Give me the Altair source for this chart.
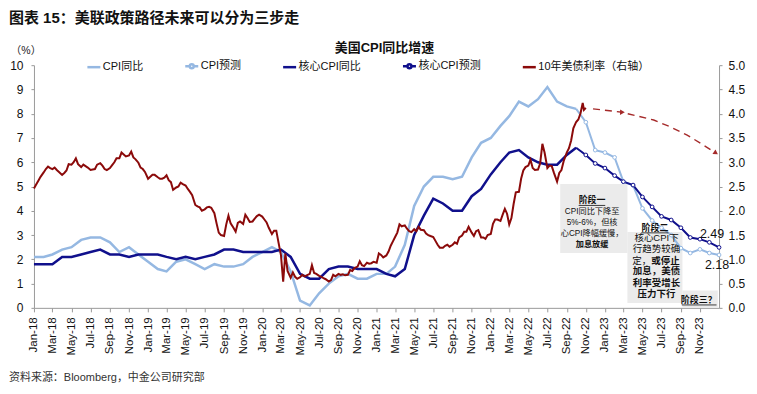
import altair as alt
import pandas as pd

# ---------------- data ----------------
# monthly YoY (%), each value plotted at its month end (Dec-17 ... Sep-22)
cpi_dates = [f"{y}-{m:02d}-01" for y in range(2018, 2023) for m in range(1, 13)][:58]
cpi_yoy = [2.1,
           2.1, 2.2, 2.4, 2.5, 2.8, 2.9, 2.9, 2.7, 2.3, 2.5, 2.2, 1.9,
           1.6, 1.5, 1.9, 2.0, 1.8, 1.6, 1.8, 1.7, 1.7, 1.8, 2.1, 2.3,
           2.5, 2.3, 1.5, 0.3, 0.1, 0.6, 1.0, 1.3, 1.4, 1.2, 1.2, 1.4,
           1.4, 1.7, 2.6, 4.2, 5.0, 5.4, 5.4, 5.3, 5.4, 6.2, 6.8, 7.0,
           7.5, 7.9, 8.5, 8.3, 8.6, 9.1, 8.5, 8.3, 8.2]
core_yoy = [1.8,
            1.8, 1.8, 2.1, 2.1, 2.2, 2.3, 2.4, 2.2, 2.2, 2.1, 2.2, 2.2,
            2.2, 2.1, 2.0, 2.1, 2.0, 2.1, 2.2, 2.4, 2.4, 2.3, 2.3, 2.3,
            2.3, 2.4, 2.1, 1.4, 1.2, 1.2, 1.6, 1.7, 1.7, 1.6, 1.6, 1.6,
            1.4, 1.3, 1.6, 3.0, 3.8, 4.5, 4.3, 4.0, 4.0, 4.6, 4.9, 5.5,
            6.0, 6.4, 6.5, 6.2, 6.0, 5.9, 5.9, 6.3, 6.6]
# forecasts Oct-22 ... Dec-23
fc_dates = ["2022-11-01", "2022-12-01"] + [f"2023-{m:02d}-01" for m in range(1, 13)] + ["2024-01-01"]
cpi_fc = [7.65, 6.5, 6.4, 6.2, 5.2, 5.05, 4.1, 3.6, 3.3, 3.0, 2.46, 2.26, 2.41, 2.26, 2.18]
core_fc = [6.3, 5.95, 5.76, 5.45, 5.2, 5.06, 4.57, 4.16, 3.77, 3.62, 3.3, 2.9, 2.83, 2.7, 2.49]

# 10Y UST yield (%, right axis): four readings per month (days 1, 8, 15, 22), Jan-18 ... Oct-22
y10_months = [f"{y}-{m:02d}" for y in range(2018, 2023) for m in range(1, 13)][:58]
y10_weekly = [
    [2.46, 2.54, 2.62, 2.70], [2.79, 2.86, 2.91, 2.88], [2.86, 2.89, 2.84, 2.80], [2.74, 2.78, 2.83, 2.96],
    [2.95, 3.00, 3.08, 2.96], [2.90, 2.95, 2.92, 2.89], [2.84, 2.85, 2.86, 2.95], [2.98, 2.93, 2.86, 2.84],
    [2.88, 2.94, 3.00, 3.08], [3.08, 3.20, 3.16, 3.12], [3.14, 3.22, 3.10, 3.06], [2.99, 2.89, 2.86, 2.80],
    [2.66, 2.70, 2.74, 2.74], [2.69, 2.66, 2.66, 2.68], [2.73, 2.63, 2.59, 2.43], [2.48, 2.50, 2.58, 2.55],
    [2.52, 2.45, 2.39, 2.32], [2.12, 2.09, 2.07, 2.00], [2.03, 2.07, 2.08, 2.06], [1.95, 1.74, 1.55, 1.50],
    [1.48, 1.72, 1.90, 1.74], [1.65, 1.57, 1.75, 1.78], [1.73, 1.92, 1.85, 1.77], [1.78, 1.84, 1.89, 1.92],
    [1.88, 1.82, 1.76, 1.65], [1.52, 1.59, 1.59, 1.35], [1.08, 0.54, 1.12, 0.76], [0.62, 0.73, 0.64, 0.60],
    [0.63, 0.68, 0.65, 0.67], [0.70, 0.88, 0.72, 0.70], [0.66, 0.64, 0.61, 0.59], [0.54, 0.57, 0.68, 0.65],
    [0.70, 0.68, 0.69, 0.67], [0.68, 0.78, 0.76, 0.82], [0.85, 0.96, 0.88, 0.86], [0.93, 0.91, 0.92, 0.95],
    [0.93, 1.12, 1.09, 1.04], [1.08, 1.16, 1.28, 1.37], [1.46, 1.55, 1.72, 1.68], [1.70, 1.63, 1.58, 1.56],
    [1.62, 1.58, 1.67, 1.61], [1.60, 1.53, 1.50, 1.48], [1.46, 1.38, 1.30, 1.24], [1.24, 1.28, 1.30, 1.26],
    [1.30, 1.35, 1.32, 1.45], [1.49, 1.57, 1.57, 1.67], [1.55, 1.48, 1.58, 1.60], [1.45, 1.45, 1.42, 1.50],
    [1.52, 1.73, 1.82, 1.82], [1.79, 1.92, 2.04, 1.94], [1.72, 1.85, 2.14, 2.38], [2.39, 2.66, 2.83, 2.90],
    [2.93, 3.05, 2.88, 2.84], [2.85, 2.98, 3.38, 3.20], [2.88, 2.93, 2.92, 2.78], [2.60, 2.78, 2.84, 3.02],
    [3.20, 3.29, 3.45, 3.70], [3.83, 3.88, 4.01, 4.22]]
y10_tail_dates = ["2022-10-26", "2022-11-01"]
y10_tail_vals = [4.08, 4.12]

# dashed forecast path for the 10Y yield (two arrows)
y10_fc_seg = ["a", "a", "b", "b", "b", "b", "b", "b"]
y10_fc_dates = ["2022-11-24", "2023-02-26", "2023-03-15", "2023-06-06", "2023-07-29",
                "2023-09-21", "2023-11-13", "2023-12-22"]
y10_fc_vals = [4.10, 4.03, 4.00, 3.87, 3.73, 3.56, 3.35, 3.19]

series_names = ["CPI同比", "CPI预测", "核心CPI同比", "核心CPI预测", "10年美债利率（右轴）"]

# annotation boxes and texts
box_x1 = ["2022-08-11", "2023-03-14", "2023-09-06"]
box_x2 = ["2023-03-14", "2023-09-06", "2023-12-28"]
box_y1 = [2.26, 0.2, 0.0]
box_y2 = [5.1, 3.13, 0.72]

stage_titles = ["阶段一", "阶段二", "阶段三？"]
stage_title_x = ["2022-11-21", "2023-06-10", "2023-10-28"]
stage_title_y = [4.44, 3.31, 0.33]
ul_x1 = ["2022-10-09", "2023-04-27", "2023-09-04"]
ul_x2 = ["2023-01-02", "2023-07-23", "2023-12-24"]
ul_y = [4.22, 3.09, 0.12]

s1_text = ["CPI同比下降至", "5%-6%，但核", "心CPI降幅缓慢，"]
s1_y = [3.97, 3.50, 3.03]
s1_bold = ["加息放缓"]
s1_bold_y = [2.57]
s2_text = ["核心CPI下", "行趋势较确"]
s2_y = [2.86, 2.41]
s2_bold = ["加息，美债", "利率受增长", "压力下行"]
s2_bold_y = [1.50, 1.03, 0.56]
split_text_l = ["定，"]
split_text_r = ["或停止"]
split_x = ["2023-05-29"]
split_y = [1.95]
s1_x = "2022-11-21"
s2_x = "2023-06-15"

# ---------------- styling ----------------
FONT = "'Liberation Sans', Arial, 'Noto Sans CJK SC', sans-serif"
LIGHT = "#95B8E2"
NAVY = "#10108C"
RED = "#8B0A0A"
BOX = "#EBEBEB"
AXC = "#9A9A9A"

x_scale = alt.Scale(type="utc", domain=[alt.DateTime(year=2018, month=1, date=1, utc=True),
                                        alt.DateTime(year=2024, month=1, date=1, utc=True)])
x_axis = alt.Axis(title=None, values=[alt.DateTime(year=2018 + i // 6, month=(i % 6) * 2 + 1, date=1, utc=True)
                                      for i in range(36)],
                  format="%b-%y", labelAngle=-90, labelFontSize=11.5, labelFont=FONT, labelColor="#111",
                  tickSize=4, tickColor=AXC, domainColor=AXC, labelPadding=5, grid=False,
                  labelOverlap=False, labelFlush=False)
yl_scale = alt.Scale(domain=[0, 10], nice=False)
yl_axis = alt.Axis(title=None, orient="left", values=list(range(0, 11)), format="d", labelFontSize=12,
                   labelFont=FONT, labelColor="#111", tickSize=3, tickColor=AXC, domainColor=AXC,
                   labelPadding=8, grid=False)
yr_scale = alt.Scale(domain=[0, 5], nice=False)
yr_axis = alt.Axis(title=None, orient="right", values=[i / 2 for i in range(11)], format=".1f",
                   labelFontSize=12, labelFont=FONT, labelColor="#111", tickSize=3, tickColor=AXC,
                   domainColor=AXC, labelPadding=6, grid=False)


def X(f):
    return alt.X(f"{f}:T", scale=x_scale, axis=x_axis)


def YL(f):
    return alt.Y(f"{f}:Q", scale=yl_scale, axis=yl_axis)


def YR(f):
    return alt.Y(f"{f}:Q", scale=yr_scale, axis=yr_axis)


act = pd.DataFrame({"date": cpi_dates, "cpi": cpi_yoy, "core": core_yoy})
fc = pd.DataFrame({"date": [cpi_dates[-1]] + fc_dates, "cpi": [cpi_yoy[-1]] + cpi_fc,
                   "core": [core_yoy[-1]] + core_fc})
fc_pts = pd.DataFrame({"date": fc_dates, "cpi": cpi_fc, "core": core_fc})
end_pt = fc_pts.tail(1)
y10_d, y10_v = [], []
for mon, quad in zip(y10_months, y10_weekly):
    for day, val in zip(["01", "08", "15", "22"], quad):
        y10_d.append(f"{mon}-{day}")
        y10_v.append(val)
y10 = pd.DataFrame({"date": y10_d + y10_tail_dates, "v": y10_v + y10_tail_vals})
y10fc = pd.DataFrame({"date": y10_fc_dates, "v": y10_fc_vals, "seg": y10_fc_seg})
boxes = pd.DataFrame({"x1": box_x1, "x2": box_x2, "y1": box_y1, "y2": box_y2})
titles = pd.DataFrame({"t": stage_titles, "x": stage_title_x, "y": stage_title_y})
uls = pd.DataFrame({"x1": ul_x1, "x2": ul_x2, "y": ul_y})


def txt(texts, xs, ys, size, bold=False, align="center"):
    d = pd.DataFrame({"t": texts, "x": xs, "y": ys})
    return alt.Chart(d).mark_text(fontSize=size, font=FONT, fontWeight="bold" if bold else "normal",
                                  color="#111", align=align, baseline="middle").encode(
        x=X("x"), y=YL("y"), text="t:N")


box_layer = alt.Chart(boxes).mark_rect(color=BOX).encode(x=X("x1"), x2="x2:T", y=YL("y1"), y2="y2:Q")
cpi_line = alt.Chart(act).mark_line(color=LIGHT, strokeWidth=2.5).encode(x=X("date"), y=YL("cpi"))
core_line = alt.Chart(act).mark_line(color=NAVY, strokeWidth=2.5).encode(x=X("date"), y=YL("core"))
cpi_fc_line = alt.Chart(fc).mark_line(color=LIGHT, strokeWidth=2).encode(x=X("date"), y=YL("cpi"))
core_fc_line = alt.Chart(fc).mark_line(color=NAVY, strokeWidth=2).encode(x=X("date"), y=YL("core"))
cpi_fc_pt = alt.Chart(fc_pts).mark_point(shape="circle", filled=True, fill="white", stroke=LIGHT,
                                         strokeWidth=1, size=14, opacity=1).encode(x=X("date"), y=YL("cpi"))
core_fc_pt = alt.Chart(fc_pts).mark_point(shape="circle", filled=True, fill="white", stroke=NAVY,
                                          strokeWidth=1, size=14, opacity=1).encode(x=X("date"), y=YL("core"))
lab_core = alt.Chart(end_pt).mark_text(fontSize=12.5, font=FONT, color="#111", dx=-7, dy=-13).encode(
    x=X("date"), y=YL("core"), text=alt.Text("core:Q", format=".2f"))
lab_cpi = alt.Chart(end_pt).mark_text(fontSize=12.5, font=FONT, color="#111", dx=-2, dy=10).encode(
    x=X("date"), y=YL("cpi"), text=alt.Text("cpi:Q", format=".2f"))
title_layer = alt.Chart(titles).mark_text(fontSize=9, font=FONT, fontWeight="bold", color="#111").encode(
    x=X("x"), y=YL("y"), text="t:N")
ul_layer = alt.Chart(uls).mark_rule(color="#111", strokeWidth=0.8).encode(x=X("x1"), x2="x2:T", y=YL("y"))

left = alt.layer(
    box_layer, cpi_line, core_line, cpi_fc_line, core_fc_line, cpi_fc_pt, core_fc_pt,
    lab_core, lab_cpi, title_layer, ul_layer,
    txt(s1_text, [s1_x] * len(s1_text), s1_y, 8.2),
    txt(s1_bold, [s1_x], s1_bold_y, 8.2, bold=True),
    txt(s2_text, [s2_x] * len(s2_text), s2_y, 9.5),
    txt(s2_bold, [s2_x] * len(s2_bold), s2_bold_y, 9.5, bold=True),
    txt(split_text_l, split_x, split_y, 9.5, align="right"),
    txt(split_text_r, split_x, split_y, 9.5, bold=True, align="left"),
)

y10_line = alt.Chart(y10).mark_line(color=RED, strokeWidth=2).encode(x=X("date"), y=YR("v"))
y10_fc_line = alt.Chart(y10fc).mark_line(color="#A52A2A", strokeWidth=1.4, strokeDash=[7, 5]).encode(
    x=X("date"), y=YR("v"), detail="seg:N")
arrow1 = alt.Chart(y10fc.iloc[[1]]).mark_point(shape="triangle-up", filled=True, color="#A52A2A",
                                               size=30, angle=92, opacity=1).encode(x=X("date"), y=YR("v"))
arrow2 = alt.Chart(y10fc.iloc[[-1]]).mark_point(shape="triangle-up", filled=True, color="#A52A2A",
                                                size=30, angle=124, opacity=1).encode(x=X("date"), y=YR("v"))
right = alt.layer(y10_line, y10_fc_line, arrow1, arrow2)

# legend (drawn from an empty point layer)
line_path = "M-1,0L1,0"
mark_path = "M-1,0L-0.3,0M0.3,0L1,0M-0.3,0A0.3,0.3,0,1,0,0.3,0A0.3,0.3,0,1,0,-0.3,0"
leg = alt.Legend(title=None, orient="none", legendX=52, legendY=-7, direction="horizontal",
                 labelFont=FONT, labelFontSize=11, labelColor="#111", symbolSize=169,
                 symbolStrokeWidth=2.5, symbolOpacity=1, columnPadding=36, labelOffset=1,
                 padding=0, labelLimit=300)
legend_layer = alt.Chart(pd.DataFrame({"series": series_names})).mark_point(
    filled=False, opacity=1, strokeWidth=2.5).encode(
    color=alt.Color("series:N", scale=alt.Scale(domain=series_names, range=[LIGHT, LIGHT, NAVY, NAVY, RED]),
                    legend=leg),
    shape=alt.Shape("series:N", scale=alt.Scale(domain=series_names,
                                               range=[line_path, mark_path, line_path, mark_path, line_path]),
                    legend=leg),
).transform_filter("false")

one = pd.DataFrame({"a": [0]})


def page_text(s, px, py, size, bold=False, align="left", color="#111"):
    return alt.Chart(one).mark_text(text=s, fontSize=size, font=FONT, fontWeight="bold" if bold else "normal",
                                    align=align, baseline="middle", color=color).encode(
        x=alt.value(px), y=alt.value(py))


texts = alt.layer(
    page_text("图表 15：美联政策路径未来可以分为三步走", -25, -47, 15, bold=True),
    page_text("美国CPI同比增速", 351, -17, 13, bold=True, align="center"),
    page_text("（%）", -8, -14, 10.5, align="center", color="#222"),
    page_text("资料来源：Bloomberg，中金公司研究部", -25, 313, 11, color="#333"),
)

chart = alt.layer(left, right, legend_layer, texts).resolve_scale(y="independent").properties(
    width=686, height=243, autosize=alt.AutoSizeParams(type="none"),
    padding={"left": 26, "top": 57, "right": 30, "bottom": 78},
).configure_view(stroke=None)

chart.save("out.html", embed_options={"renderer": "svg", "actions": False})
